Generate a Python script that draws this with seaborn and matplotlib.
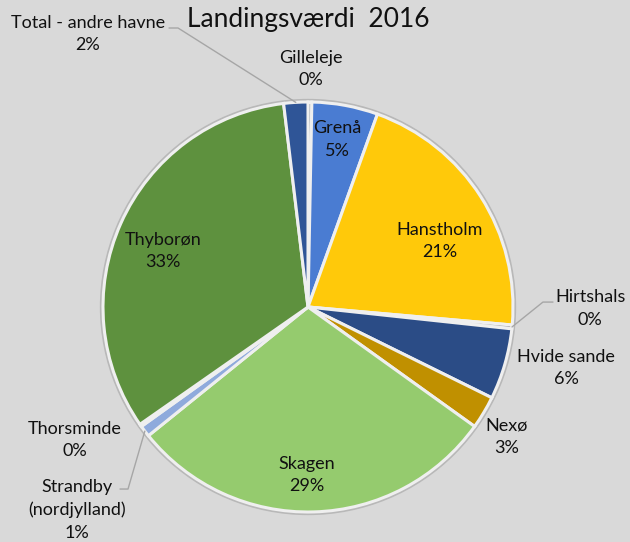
import matplotlib
matplotlib.use("Agg")
import matplotlib.pyplot as plt
import numpy as np
import seaborn as sns

# data (share of landing value, %)
harbours = ["Gilleleje", "Grenå", "Hanstholm", "Hirtshals", "Hvide sande", "Nexø",
            "Skagen", "Strandby\n(nordjylland)", "Thorsminde", "Thyborøn",
            "Total - andre havne"]
shares = [0.3, 5.2, 20.9, 0.3, 5.6, 2.6, 29.3, 0.9, 0.2, 32.8, 1.9]
pct_labels = ["0%", "5%", "21%", "0%", "6%", "3%", "29%", "1%", "0%", "33%", "2%"]
colours = ["#3B4A5E", "#4A7CD2", "#FFC90A", "#A5A5A5", "#2B4C86", "#C09000",
           "#95CB6E", "#8FAADC", "#7F7F7F", "#5E913E", "#2F5597"]

# layout: inside labels (radius fraction, angle shift in degrees)
inside = {"Grenå": (0.83, 0.5), "Hanstholm": (0.72, -6.0),
          "Skagen": (0.82, -2.0), "Thyborøn": (0.76, 3.0)}
# layout: outside label centres
outside = {
    "Gilleleje": (0.015, 1.16),
    "Hirtshals": (1.376, -0.007),
    "Hvide sande": (1.259, -0.298),
    "Nexø": (0.971, -0.634),
    "Strandby\n(nordjylland)": (-1.127, -0.99),
    "Thorsminde": (-1.137, -0.649),
    "Total - andre havne": (-1.073, 1.332),
}
leaders = {
    "Total - andre havne": [(-0.678, 1.361), (-0.634, 1.361)],
    "Hirtshals": [(1.195, 0.024), (1.146, 0.024)],
    "Strandby\n(nordjylland)": [(-0.917, -0.888), (-0.878, -0.888)],
}

bg = "#D9D9D9"
sns.set_theme(style="white")
plt.rcParams["font.family"] = ["Lato", "DejaVu Sans"]

fig = plt.figure(figsize=(6.3, 5.42), dpi=100, facecolor=bg)
ax = fig.add_axes([0, 0, 1, 1])
ax.set_facecolor(bg)

# soft rim behind the pie
ax.add_patch(plt.Circle((0, 0), 1.012, color="#B8B8B8", zorder=0))

wedges, _ = ax.pie(shares, colors=colours, startangle=90, counterclock=False,
                   radius=1.0,
                   wedgeprops=dict(edgecolor="#EFEFEF", linewidth=2.2))

for w, name, pct in zip(wedges, harbours, pct_labels):
    mid = (w.theta1 + w.theta2) / 2
    if name in inside:
        r, shift = inside[name]
        a = np.deg2rad(mid + shift)
        ax.text(r * np.cos(a), r * np.sin(a), f"{name}\n{pct}",
                ha="center", va="center", fontsize=13, color="#111111",
                linespacing=1.5)
    else:
        tx, ty = outside[name]
        ax.text(tx, ty, f"{name}\n{pct}", ha="center", va="center",
                fontsize=13, color="#111111", linespacing=1.5)
        if name in leaders:
            a = np.deg2rad(mid)
            pts = leaders[name] + [(1.0 * np.cos(a), 1.0 * np.sin(a))]
            xs, ys = zip(*pts)
            ax.plot(xs, ys, color="#A6A6A6", lw=1.0)

ax.text(0.0, 1.40, "Landingsværdi  2016", ha="center", va="center",
        fontsize=19, color="#111111")

ax.set_aspect("auto")
ax.set_xlim(-308 / 205, (630 - 308) / 205)
ax.set_ylim(-(542 - 307) / 205, 307 / 205)
ax.axis("off")

fig.savefig("out.png", dpi=100, facecolor=bg)
